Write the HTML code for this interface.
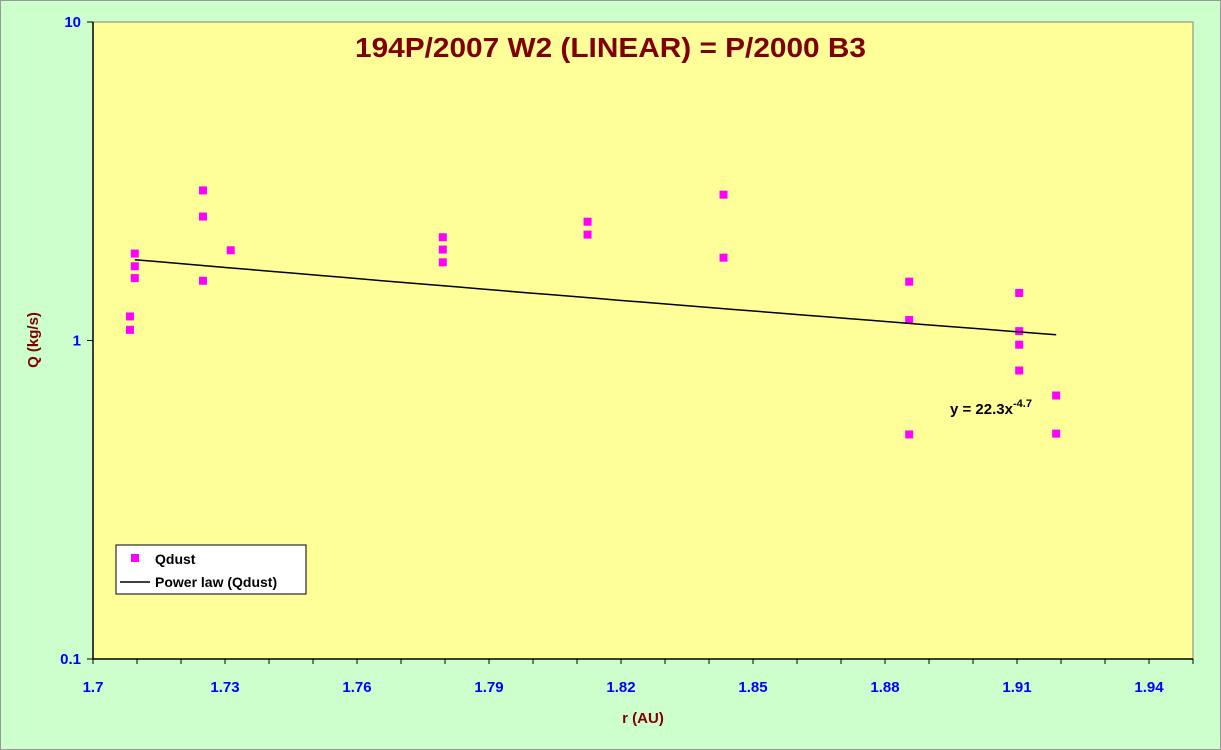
<!DOCTYPE html>
<html><head><meta charset="utf-8"><style>
html,body{margin:0;padding:0;background:#CCFFCC;}
svg{display:block;font-family:"Liberation Sans",Arial,sans-serif;}
</style></head><body>
<svg id="chart" width="1221" height="750" viewBox="0 0 1221 750" xmlns="http://www.w3.org/2000/svg">
<rect x="0.5" y="0.5" width="1220" height="749" fill="#CCFFCC" stroke="#999" stroke-width="1"/>
<rect x="93" y="22" width="1100" height="637" fill="#FFFF99" stroke="#808080" stroke-width="1"/>
<text x="355" y="57" textLength="511" lengthAdjust="spacingAndGlyphs" font-size="28" font-weight="bold" fill="#800000">194P/2007 W2 (LINEAR) = P/2000 B3</text>
<text transform="translate(38,340) rotate(-90)" text-anchor="middle" font-size="15" font-weight="bold" fill="#800000">Q (kg/s)</text>
<text x="643" y="723" text-anchor="middle" font-size="15" font-weight="bold" fill="#800000">r (AU)</text>
<g id="axes"></g>
<g id="marks"></g>
<text x="950" y="414" font-size="15" font-weight="bold" fill="#000">y = 22.3x<tspan dy="-7" font-size="11">-4.7</tspan></text>
<g>
<rect x="116" y="545" width="190" height="49" fill="#fff" stroke="#000" stroke-width="1"/>
<rect x="131" y="554" width="8" height="8" fill="#FF00FF"/>
<text x="155" y="564" font-size="14" font-weight="bold">Qdust</text>
<line x1="120" y1="582" x2="150" y2="582" stroke="#000" stroke-width="1.5"/>
<text x="155" y="587" font-size="14" font-weight="bold">Power law (Qdust)</text>
</g>
</svg>
<script>
const xVals=[1.7084,1.7084,1.7095,1.7095,1.7095,1.725,1.725,1.725,1.7313,1.7795,1.7795,1.7795,1.8124,1.8124,1.8433,1.8433,1.8855,1.8855,1.8855,1.9105,1.9105,1.9105,1.9105,1.9189,1.9189];
const qVals=[1.19,1.08,1.875,1.71,1.57,2.96,2.45,1.54,1.92,2.11,1.93,1.76,2.36,2.15,2.87,1.82,1.53,1.16,0.507,1.41,1.07,0.97,0.805,0.672,0.51];
const xTicks=[1.70,1.73,1.76,1.79,1.82,1.85,1.88,1.91,1.94];
const xTickLabels=["1.7","1.73","1.76","1.79","1.82","1.85","1.88","1.91","1.94"];
const yTicks=[0.1,1,10];
const yTickLabels=["0.1","1","10"];
const fitCoef=22.3, fitExp=-4.7;
const fitRange=[1.7095,1.9189];

const NS="http://www.w3.org/2000/svg";
const X0=93,X1=1193,XMIN=1.70,XMAX=1.95;
const Y0=659,Y1=22;
function sx(v){return X0+(v-XMIN)/(XMAX-XMIN)*(X1-X0);}
function sy(v){return Y0-(Math.log10(v)+1)/2*(Y0-Y1);}
function mk(tag,attrs,parent){const e=document.createElementNS(NS,tag);for(const k in attrs)e.setAttribute(k,attrs[k]);parent.appendChild(e);return e;}
const axes=document.getElementById('axes'),marks=document.getElementById('marks');

const xa=mk('line',{x1:X0,y1:Y0,x2:X1,y2:Y0,stroke:'#000','stroke-width':1.5},axes);


const ya=mk('line',{x1:X0,y1:Y1,x2:X0,y2:Y0,stroke:'#000','stroke-width':1.5},axes);


for(let i=0;i<=25;i++){const v=XMIN+i*0.01;const px=sx(v);
 const t=mk('line',{x1:px,y1:Y0,x2:px,y2:Y0+5,stroke:'#000','stroke-width':1},axes);
 
 }
xTicks.forEach((v,i)=>{const t=mk('text',{x:sx(v),y:Y0+33,'text-anchor':'middle','font-size':15,'font-weight':'bold',fill:'#0000FF'},axes);t.textContent=xTickLabels[i];
 
 });
yTicks.forEach((v,i)=>{const py=sy(v);
 const l=mk('line',{x1:X0-6,y1:py,x2:X0,y2:py,stroke:'#000','stroke-width':1},axes);
 
 
 const t=mk('text',{x:X0-12,y:py+5,'text-anchor':'end','font-size':15,'font-weight':'bold',fill:'#0000FF'},axes);t.textContent=yTickLabels[i];
 
 });

xVals.forEach((x,i)=>{const r=mk('rect',{x:sx(x)-4,y:sy(qVals[i])-4,width:8,height:8,fill:'#FF00FF'},marks);
 
 });
let d='';for(let i=0;i<=40;i++){const x=fitRange[0]+(fitRange[1]-fitRange[0])*i/40;const y=fitCoef*Math.pow(x,fitExp);d+=(i?'L':'M')+sx(x).toFixed(1)+','+sy(y).toFixed(1);}
const p=mk('path',{d:d,fill:'none',stroke:'#000','stroke-width':1.5},marks);


</script>
</body></html>
